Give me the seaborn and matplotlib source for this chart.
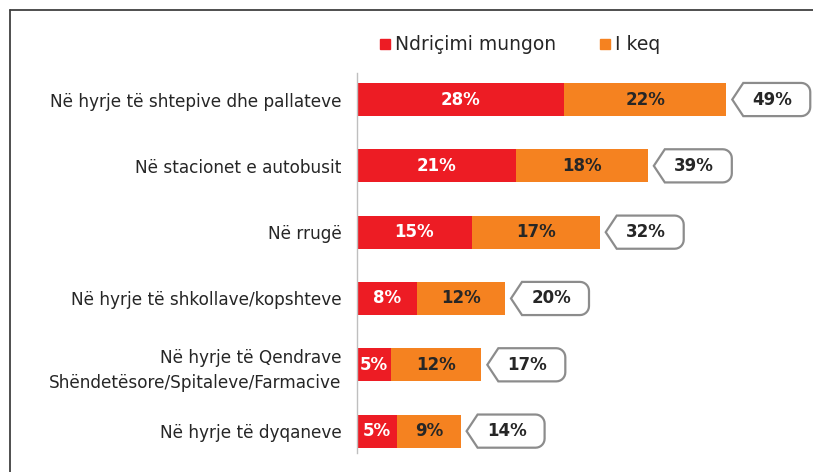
import numpy as np
import pandas as pd
import matplotlib
matplotlib.use("Agg")
import matplotlib.pyplot as plt
import seaborn as sns
from matplotlib.patches import Polygon
from matplotlib.lines import Line2D

categories = [
    "Në hyrje të shtepive dhe pallateve",
    "Në stacionet e autobusit",
    "Në rrugë",
    "Në hyrje të shkollave/kopshteve",
    "Në hyrje të Qendrave\nShëndetësore/Spitaleve/Farmacive",
    "Në hyrje të dyqaneve",
]
missing = [28.0, 21.5, 15.5, 8.1, 4.6, 5.4]
bad = [21.9, 17.8, 17.3, 11.9, 12.2, 8.6]
missing_labels = ["28%", "21%", "15%", "8%", "5%", "5%"]
bad_labels = ["22%", "18%", "17%", "12%", "12%", "9%"]
total_labels = ["49%", "39%", "32%", "20%", "17%", "14%"]
series_names = ["Ndriçimi mungon", "I keq"]

RED = "#ED1C24"
ORANGE = "#F58220"
DARK = "#262626"

sns.set_theme(style="white")
plt.rcParams["font.family"] = ["DejaVu Sans"]

df = pd.DataFrame({"cat": categories, "missing": missing, "bad": bad})
df["total"] = df["missing"] + df["bad"]

W, H = 813, 472
fig = plt.figure(figsize=(W / 100, H / 100), dpi=100)
ax_left, ax_right = 357 / W, 1.0
ax_top, ax_bot = 1 - 73 / H, 1 - 453 / H
ax = fig.add_axes([ax_left, ax_bot, ax_right - ax_left, ax_top - ax_bot])

sns.barplot(data=df, x="total", y="cat", orient="h", color=ORANGE,
            width=0.5, saturation=1, ax=ax, linewidth=0)
sns.barplot(data=df, x="missing", y="cat", orient="h", color=RED,
            width=0.5, saturation=1, ax=ax, linewidth=0)

px_per_unit = 7.4
xmax = (W - 357) / px_per_unit
ax.set_xlim(0, xmax)
ax.set_ylim(5.33, -0.40)
ax.set_xlabel("")
ax.set_ylabel("")
ax.set_xticks([])
for s in ["top", "right", "bottom"]:
    ax.spines[s].set_visible(False)
ax.spines["left"].set_color("#BFBFBF")
ax.spines["left"].set_linewidth(1.0)
ax.tick_params(axis="y", length=0, pad=11, labelsize=12.2, labelcolor=DARK)
for lbl in ax.get_yticklabels():
    lbl.set_linespacing(1.55)

# segment labels
for i, (m, b) in enumerate(zip(missing, bad)):
    ax.text(m / 2, i, missing_labels[i], ha="center", va="center",
            color="white", fontsize=12, fontweight="bold")
    ax.text(m + b / 2, i, bad_labels[i], ha="center", va="center",
            color=DARK, fontsize=12, fontweight="bold")

# callouts
ypx = 66.3
for i, t in enumerate(df["total"]):
    x0 = t + 6 / px_per_unit
    w = 78 / px_per_unit
    tip = 11 / px_per_unit
    h = 0.25
    r = 9
    rx, ry = r / px_per_unit, r / ypx
    x1 = x0 + w
    pts = [(x0, i), (x0 + tip, i - h)]
    for a in np.linspace(90, 0, 8):
        pts.append((x1 - rx + rx * np.cos(np.radians(a)),
                    i - h + ry - ry * np.sin(np.radians(a))))
    for a in np.linspace(0, -90, 8):
        pts.append((x1 - rx + rx * np.cos(np.radians(a)),
                    i + h - ry - ry * np.sin(np.radians(a))))
    pts.append((x0 + tip, i + h))
    poly = Polygon(pts, closed=True, facecolor="white", edgecolor="#8C8C8C",
                   linewidth=1.6, clip_on=False, zorder=3)
    ax.add_patch(poly)
    ax.text(x0 + w / 2 + 1 / px_per_unit, i, total_labels[i], ha="center",
            va="center", color=DARK, fontsize=12, fontweight="bold",
            zorder=4, clip_on=False)

# legend
handles = [Line2D([], [], marker="s", linestyle="", color=RED, markersize=7.5),
           Line2D([], [], marker="s", linestyle="", color=ORANGE, markersize=7.5)]
fig.legend(handles, series_names, loc="center left",
           bbox_to_anchor=(379 / W, 1 - 45 / H), ncol=2, frameon=False,
           fontsize=13.5, handlelength=0.6, handletextpad=0.25,
           columnspacing=2.3, labelcolor=DARK, borderaxespad=0, borderpad=0)

# outer frame lines
fig.add_artist(Line2D([10 / W, 1], [1 - 9.5 / H, 1 - 9.5 / H],
                      transform=fig.transFigure, color="#404040", linewidth=1.3))
fig.add_artist(Line2D([10 / W, 10 / W], [0, 1 - 9.5 / H],
                      transform=fig.transFigure, color="#404040", linewidth=1.3))

fig.savefig("out.png", dpi=100, facecolor="white")
